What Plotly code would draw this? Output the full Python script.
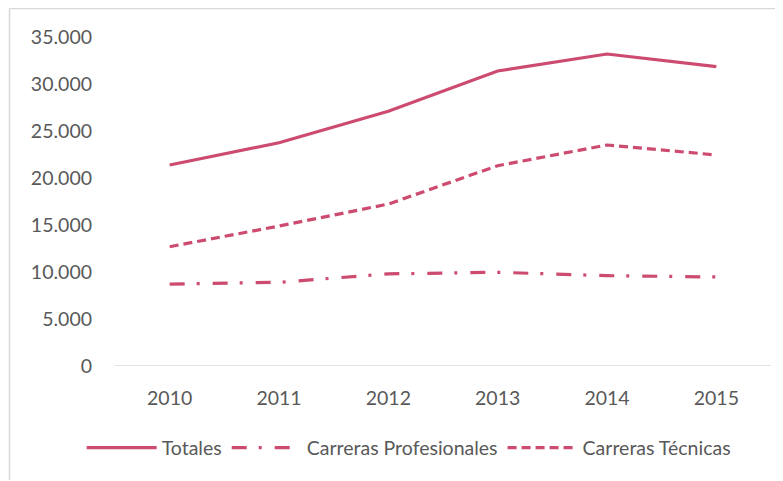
import plotly.graph_objects as go

years = ["2010", "2011", "2012", "2013", "2014", "2015"]
totales = [21380, 23750, 27100, 31380, 33190, 31840]
profesionales = [8720, 8900, 9800, 9970, 9610, 9470]
tecnicas = [12690, 14890, 17230, 21310, 23510, 22450]

y_ticks = [0, 5000, 10000, 15000, 20000, 25000, 30000, 35000]
y_labels = ["0", "5.000", "10.000", "15.000", "20.000", "25.000", "30.000", "35.000"]

color = "#CC4B6E"
font_color = "#595959"
border = "#D9D9D9"

# page body has an 8px default margin -> figure is drawn at (8, 8)
L, R, T, B = 107, 12, 29, 115
W, H = 775, 473
pw, ph = W - L - R, H - T - B

fig = go.Figure()
fig.add_trace(go.Scatter(x=years, y=totales, mode="lines", name="Totales",
                         line=dict(color=color, width=3.2)))
fig.add_trace(go.Scatter(x=years, y=profesionales, mode="lines", name="Carreras Profesionales",
                         line=dict(color=color, width=3.2, dash="15px,12px,3px,13px")))
fig.add_trace(go.Scatter(x=years, y=tecnicas, mode="lines", name="Carreras Técnicas",
                         line=dict(color=color, width=3.2, dash="9px,5px")))

fig.update_layout(
    width=W, height=H,
    margin=dict(l=L, r=R, t=T, b=B, autoexpand=False),
    paper_bgcolor="white", plot_bgcolor="white",
    font=dict(family="Lato, Noto Sans, sans-serif", size=19.5, color=font_color),
    showlegend=True,
    legend=dict(orientation="h", x=0.517, xanchor="center", xref="container",
                y=(H - 440) / H, yanchor="middle", yref="container",
                font=dict(size=19.5, color=font_color), itemwidth=70),
    xaxis=dict(type="category", range=[-0.5, 5.5], showgrid=False, showline=False,
               ticks="", zeroline=False, ticklabelstandoff=18,
               tickfont=dict(size=19.5, color=font_color)),
    yaxis=dict(range=[0, 35000], tickvals=y_ticks, ticktext=y_labels, showgrid=False,
               zeroline=False, showline=False, ticks="", ticklabelstandoff=22,
               tickfont=dict(size=19.5, color=font_color)),
    shapes=[
        dict(type="line", xref="paper", yref="y", x0=0, x1=1, y0=0, y1=0,
             line=dict(color=border, width=1.5), layer="below"),
        dict(type="line", xref="paper", yref="paper",
             x0=(1.5 - L) / pw, x1=(1.5 - L) / pw, y0=-(B - 1) / ph, y1=1 + (T - 0.5) / ph,
             line=dict(color=border, width=1.5)),
        dict(type="line", xref="paper", yref="paper",
             x0=(1.5 - L) / pw, x1=1 + (R - 0.5) / pw, y0=1 + (T - 0.5) / ph, y1=1 + (T - 0.5) / ph,
             line=dict(color=border, width=1.5)),
    ],
)

fig.write_html("out.html")
